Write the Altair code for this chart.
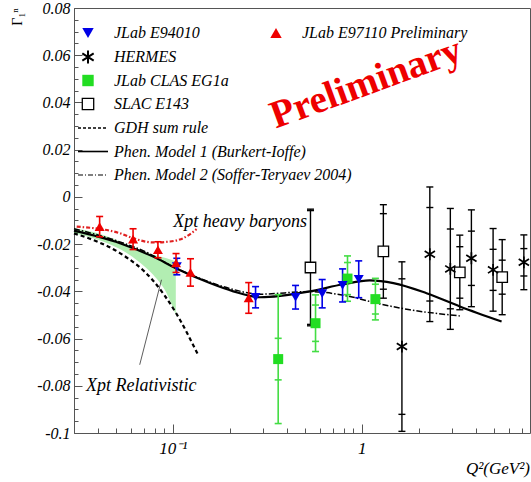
import altair as alt
import pandas as pd

# ---------------- data ----------------
e97_q = [0.041, 0.0616, 0.0834, 0.104, 0.124, 0.252]
e97_g = [-0.0126, -0.0179, -0.0224, -0.028, -0.032, -0.0428]
e97_e = [0.0043, 0.0044, 0.0034, 0.004, 0.0058, 0.0065]

e94_q = [0.105, 0.274, 0.446, 0.617, 0.791, 0.963]
e94_g = [-0.0295, -0.0425, -0.0425, -0.041, -0.0375, -0.0349]
e94_e = [0.0035, 0.0045, 0.005, 0.006, 0.007, 0.0078]

clas_q = [0.361, 0.569, 0.84, 1.18]
clas_g = [-0.0687, -0.0535, -0.0346, -0.0433]
clas_tot = [0.0273, 0.012, 0.0096, 0.0088]
clas_stat = [0.0088, 0.0077, 0.0068, 0.0063]

slac_q = [0.535, 1.30, 3.30, 5.53]
slac_g = [-0.0299, -0.0231, -0.032, -0.034]
slac_tot = [0.0247, 0.0198, 0.0158, 0.0159]
slac_stat = [0.0241, 0.016, 0.0109, 0.0072]

hermes_q = [1.63, 2.29, 2.94, 3.80, 4.95, 7.2]
hermes_g = [-0.0634, -0.0243, -0.0305, -0.026, -0.0309, -0.0277]
hermes_tot = [0.0359, 0.0285, 0.0256, 0.0205, 0.0175, 0.0116]
hermes_stat = [0.0287, 0.0198, 0.0169, 0.0115, 0.0087, 0.0058]

m1_q = [0.03, 0.0525, 0.0787, 0.1037, 0.157, 0.209, 0.289, 0.531, 0.797, 1.10, 1.47, 2.2, 3.3, 5.49]
m1_g = [-0.0143, -0.0196, -0.0253, -0.0302, -0.0365, -0.04, -0.0425, -0.04, -0.037, -0.0354, -0.0365, -0.0408, -0.0464, -0.0528]

m2_q = [0.03, 0.05, 0.075, 0.1, 0.15, 0.2, 0.289, 0.531, 0.864, 1.196, 1.795, 3.3]
m2_g = [-0.0135, -0.0185, -0.024, -0.0295, -0.0355, -0.0388, -0.0412, -0.0401, -0.0422, -0.045, -0.0478, -0.0504]

gdh_q = [0.03, 0.04, 0.0525, 0.0787, 0.104, 0.136]
gdh_g = [-0.0155, -0.019, -0.0238, -0.0355, -0.0492, -0.0669]

hb_q = [0.031, 0.0525, 0.0616, 0.0787, 0.0967, 0.1134, 0.1336]
hb_g = [-0.0126, -0.0154, -0.0175, -0.0193, -0.0189, -0.0175, -0.0137]

band_q = [0.03, 0.0428, 0.0525, 0.0643, 0.0787, 0.0927, 0.1037]
band_hi = [-0.0133, -0.0161, -0.0189, -0.0221, -0.0245, -0.026, -0.0274]
band_lo = [-0.0154, -0.0189, -0.0221, -0.0267, -0.033, -0.0408, -0.0499]

ptr_q = [0.0668, 0.0871]
ptr_g = [-0.0711, -0.0351]

x_major = [0.1, 1]
x_minor = [0.04, 0.05, 0.06, 0.07, 0.08, 0.09, 0.2, 0.3, 0.4, 0.5, 0.6, 0.7, 0.8, 0.9, 2, 3, 4, 5, 6, 7]
y_major = [-0.1, -0.08, -0.06, -0.04, -0.02, 0, 0.02, 0.04, 0.06, 0.08]
y_minor = [round(-0.1 + 0.005 * i, 3) for i in range(37)]

legend_labels = ["JLab E94010", "HERMES", "JLab CLAS EG1a", "SLAC E143", "GDH sum rule",
                 "Phen. Model 1 (Burkert-Ioffe)", "Phen. Model 2 (Soffer-Teryaev 2004)"]
legend_label2 = "JLab E97110 Preliminary"

# ---------------- styling ----------------
FONT = "Liberation Serif, Times New Roman, serif"
BLUE = "#0000e6"
RED = "#ee0000"
GREEN = "#22dd22"
GREEN_BAR = "#44dd44"
xscale = alt.Scale(type="log", domain=[0.03, 7.76], nice=False)
yscale = alt.Scale(domain=[-0.1, 0.08], nice=False, zero=False)


def X(f):
    return alt.X(f"{f}:Q", scale=xscale, axis=None)


def Y(f):
    return alt.Y(f"{f}:Q", scale=yscale, axis=None)


def errbars(q, g, tot, stat, color, width=1.4, cap=7):
    rows, caps = [], []
    for i in range(len(q)):
        rows.append({"q": q[i], "lo": g[i] - tot[i], "hi": g[i] + tot[i]})
        caps += [{"q": q[i], "c": g[i] - tot[i]}, {"q": q[i], "c": g[i] + tot[i]}]
        if stat is not None:
            caps += [{"q": q[i], "c": g[i] - stat[i]}, {"q": q[i], "c": g[i] + stat[i]}]
    rule = alt.Chart(pd.DataFrame(rows)).mark_rule(color=color, strokeWidth=width).encode(
        x=X("q"), y=Y("lo"), y2=alt.Y2("hi:Q"))
    tick = alt.Chart(pd.DataFrame(caps)).mark_tick(
        orient="horizontal", color=color, size=cap, thickness=width, opacity=1).encode(x=X("q"), y=Y("c"))
    return [rule, tick]


def curve(q, g, color, width, dash=None):
    kw = dict(color=color, strokeWidth=width, interpolate="monotone")
    if dash:
        kw["strokeDash"] = dash
    return alt.Chart(pd.DataFrame({"q": q, "g": g})).mark_line(**kw).encode(x=X("q"), y=Y("g"), order="q:Q")


ASTER = "M0,-1L0,1M-0.87,-0.55L0.87,0.55M-0.87,0.55L0.87,-0.55"


def points(q, g, **mk):
    return alt.Chart(pd.DataFrame({"q": q, "g": g})).mark_point(opacity=1, **mk).encode(x=X("q"), y=Y("g"))


layers = []
# band
layers.append(alt.Chart(pd.DataFrame({"q": band_q, "hi": band_hi, "lo": band_lo})).mark_area(
    color="#66dd66", opacity=0.5, interpolate="monotone").encode(x=X("q"), y=Y("hi"), y2=alt.Y2("lo:Q")))
# curves
layers.append(curve(gdh_q, gdh_g, "black", 2.2, [4, 3]))
layers.append(curve(m2_q, m2_g, "black", 1.5, [6, 2, 1.5, 2]))
layers.append(curve(m1_q, m1_g, "black", 2.2))
layers.append(curve(hb_q, hb_g, "#e02020", 2.2, [4, 2, 1.5, 2]))
layers.append(alt.Chart(pd.DataFrame({"q": ptr_q, "g": ptr_g})).mark_line(color="#333", strokeWidth=0.8).encode(
    x=X("q"), y=Y("g")))
# error bars
layers += errbars(slac_q, slac_g, slac_tot, slac_stat, "black")
layers += errbars(hermes_q, hermes_g, hermes_tot, hermes_stat, "black")
layers += errbars(clas_q, clas_g, clas_tot, clas_stat, GREEN_BAR, width=1.6)
layers += errbars(e94_q, e94_g, e94_e, None, BLUE, width=1.6)
layers += errbars(e97_q, e97_g, e97_e, None, RED, width=1.6)
# markers
layers.append(points(slac_q, slac_g, shape="square", filled=True, fill="white", stroke="black", strokeWidth=1.3, size=110))
layers.append(points(hermes_q, hermes_g, shape=ASTER, filled=False, stroke="black", strokeWidth=1.7, size=140))
layers.append(points(clas_q, clas_g, shape="square", filled=True, color=GREEN, size=100))
layers.append(points(e94_q, e94_g, shape="triangle-down", filled=True, color=BLUE, size=100))
layers.append(points(e97_q, e97_g, shape="triangle-up", filled=True, color=RED, size=100))

# annotations in data coordinates
ann = pd.DataFrame({"q": [0.1004, 0.0347], "g": [-0.01257, -0.0824],
                    "t": ["Xpt heavy baryons", "Xpt Relativistic"]})
layers.append(alt.Chart(ann).mark_text(font=FONT, fontStyle="italic", fontSize=18, align="left",
                                        baseline="alphabetic", color="black").encode(x=X("q"), y=Y("g"), text="t:N"))

# ---------------- legend (pixel layout) ----------------
row_y = [25, 49, 72.5, 96, 120, 143.5, 167]
leg = pd.DataFrame({"px": [40] * 7 + [228], "py": row_y + [row_y[0]], "t": legend_labels + [legend_label2]})
layers.append(alt.Chart(leg).mark_text(font=FONT, fontStyle="italic", fontSize=16, align="left",
                                        baseline="middle", color="black").encode(
    x=alt.X("px:Q", scale=None, axis=None), y=alt.Y("py:Q", scale=None, axis=None), text="t:N"))
one = pd.DataFrame({"a": [0]})
layers.append(alt.Chart(one).mark_point(shape="triangle-down", filled=True, color=BLUE, size=130, opacity=1).encode(
    x=alt.value(14), y=alt.value(row_y[0])))
layers.append(alt.Chart(one).mark_point(shape="triangle-up", filled=True, color=RED, size=130, opacity=1).encode(
    x=alt.value(202), y=alt.value(row_y[0])))
layers.append(alt.Chart(one).mark_point(shape=ASTER, filled=False, stroke="black", strokeWidth=2, size=170, opacity=1).encode(
    x=alt.value(14), y=alt.value(row_y[1])))
layers.append(alt.Chart(one).mark_point(shape="square", filled=True, color=GREEN, size=130, opacity=1).encode(
    x=alt.value(14), y=alt.value(row_y[2])))
layers.append(alt.Chart(one).mark_point(shape="square", filled=True, fill="white", stroke="black", strokeWidth=1.3,
                                        size=130, opacity=1).encode(x=alt.value(14), y=alt.value(row_y[3])))
layers.append(alt.Chart(one).mark_rule(color="black", strokeWidth=1.3, strokeDash=[3, 2]).encode(
    x=alt.value(4), x2=alt.value(34), y=alt.value(row_y[4])))
layers.append(alt.Chart(one).mark_rule(color="black", strokeWidth=1.6).encode(
    x=alt.value(4), x2=alt.value(34), y=alt.value(row_y[5])))
layers.append(alt.Chart(one).mark_rule(color="black", strokeWidth=1.2, strokeDash=[5, 2, 1, 2]).encode(
    x=alt.value(4), x2=alt.value(34), y=alt.value(row_y[6])))

# big "Preliminary" stamp, axis titles
layers.append(alt.Chart(one).mark_text(text="Preliminary", font=FONT, fontWeight="bold", fontSize=39, angle=340,
                                        align="center", baseline="middle", color=RED).encode(
    x=alt.value(292), y=alt.value(75)))
layers.append(alt.Chart(one).mark_text(text="Γ₁ⁿ", font=FONT, fontSize=14, angle=270, align="center",
                                        baseline="middle", color="black").encode(x=alt.value(-56), y=alt.value(9)))
layers.append(alt.Chart(one).mark_text(text="Q²(GeV²)", font=FONT, fontStyle="italic", fontSize=17, align="right",
                                        baseline="alphabetic", color="black").encode(x=alt.value(456), y=alt.value(466)))

# ---------------- axes (ticks drawn inward) ----------------
ax_df = pd.DataFrame({"q": [0.1], "g": [0.0]})
common = dict(domain=False, grid=False, title=None, tickColor="#555", tickWidth=1)
major = alt.Chart(ax_df).mark_point(opacity=0).encode(
    x=alt.X("q:Q", scale=xscale, axis=alt.Axis(
        orient="bottom", values=x_major, tickSize=9, offset=-9, labelPadding=7,
        labelExpr="datum.value < 0.5 ? '10⁻¹' : '1'", labelFont=FONT, labelFontStyle="italic",
        labelFontSize=17, labelColor="black", **common)),
    y=alt.Y("g:Q", scale=yscale, axis=alt.Axis(
        orient="left", values=y_major, tickSize=8, offset=-8, labelPadding=4,
        labelExpr="(datum.value < 0 ? '-' : '') + format(abs(datum.value), '.2~f')",
        labelFont=FONT, labelFontStyle="italic", labelFontSize=16, labelColor="black", **common)))
minor = alt.Chart(ax_df).mark_point(opacity=0).encode(
    x=alt.X("q:Q", scale=xscale, axis=alt.Axis(
        orient="bottom", values=x_minor, tickSize=5, offset=-5, labels=False, **common)),
    y=alt.Y("g:Q", scale=yscale, axis=alt.Axis(
        orient="left", values=y_minor, tickSize=4, offset=-4, labels=False, **common)))
layers = [major, minor] + layers

chart = alt.layer(*layers).resolve_axis(x="independent", y="independent").properties(
    width=456, height=425,
    padding={"left": 74, "top": 8, "right": 1, "bottom": 49},
    autosize=alt.AutoSizeParams(type="none"),
).configure_view(stroke="#555", strokeWidth=1)

chart.save("out.html", embed_options={"renderer": "svg", "actions": False})
